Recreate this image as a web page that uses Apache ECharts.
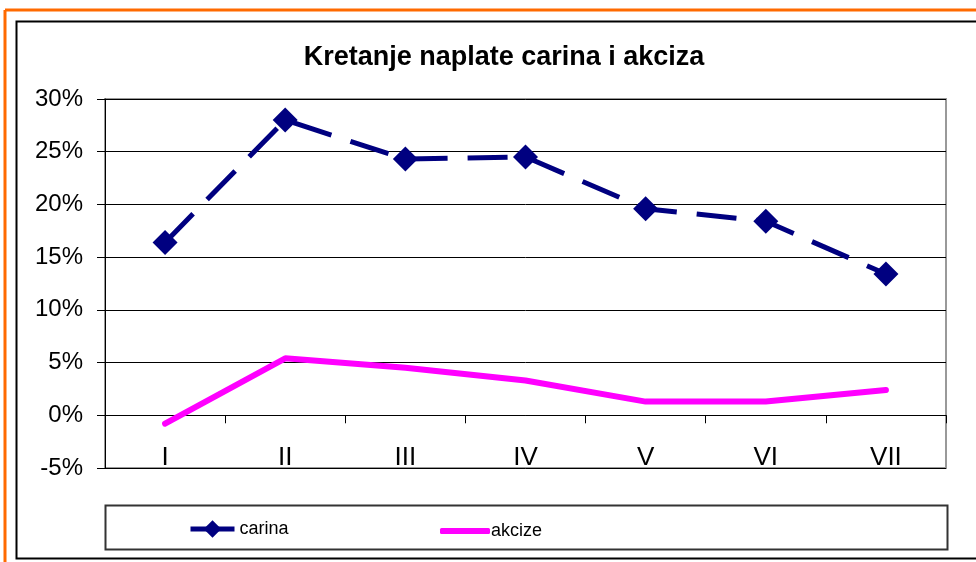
<!DOCTYPE html>
<html>
<head>
<meta charset="utf-8">
<script src="https://cdn.jsdelivr.net/npm/echarts@6/dist/echarts.min.js"></script>
<style>html,body{margin:0;padding:0;background:#fff}#c{width:976px;height:562px}</style>
</head>
<body>
<div id="c"></div>
<script>
var categories = ['I', 'II', 'III', 'IV', 'V', 'VI', 'VII'];
var carina = [16.4, 28.0, 24.3, 24.5, 19.6, 18.4, 13.4];
var akcize = [-0.8, 5.4, 4.5, 3.3, 1.3, 1.3, 2.4];
var yTicks = { min: -5, max: 30, interval: 5 };

var chart = echarts.init(document.getElementById('c'));
var sans = "'Liberation Sans', Arial, sans-serif";
chart.setOption({
  backgroundColor: '#fff',
  animation: false,
  title: {
    text: 'Kretanje naplate carina i akciza',
    left: 499, top: 39, textAlign: 'center',
    textStyle: { fontFamily: sans, fontWeight: 'bold', fontSize: 27, color: '#000' }
  },
  legend: [
    {
      left: 183, top: 515,
      itemWidth: 44, itemHeight: 22,
      lineStyle: { width: 5, type: 'solid' },
      textStyle: { fontFamily: sans, fontSize: 18, color: '#000' },
      data: ['carina']
    },
    {
      left: 435, top: 517,
      itemWidth: 50, itemHeight: 6,
      textStyle: { fontFamily: sans, fontSize: 18, color: '#000', padding: [0, 0, 0, -4] },
      data: [{ name: 'akcize', icon: 'roundRect' }]
    }
  ],
  graphic: [
    { type: 'line', shape: { x1: 5, y1: 10, x2: 976, y2: 10 }, style: { stroke: '#ff6a00', lineWidth: 3 } },
    { type: 'line', shape: { x1: 5, y1: 10, x2: 5, y2: 562 }, style: { stroke: '#ff6a00', lineWidth: 3 } },
    { type: 'rect', shape: { x: 16.5, y: 21.5, width: 1000, height: 537 }, style: { fill: 'none', stroke: '#000', lineWidth: 2 } },
    { type: 'rect', shape: { x: 105.5, y: 505.5, width: 842, height: 44 }, style: { fill: 'none', stroke: '#333', lineWidth: 2 }, z: 0 }
  ],
  grid: {
    left: 105, right: 30, top: 99, bottom: 94,
    show: true, borderColor: '#999', borderWidth: 2, backgroundColor: '#fff'
  },
  xAxis: [
    {
      type: 'category', data: categories, boundaryGap: true,
      axisLine: { onZero: true, lineStyle: { color: '#000', width: 1 } },
      axisTick: { show: true, length: 8, lineStyle: { color: '#000' } },
      axisLabel: { show: false }
    },
    {
      type: 'category', data: categories, boundaryGap: true, position: 'bottom',
      offset: -23,
      axisLine: { show: false, onZero: false },
      axisTick: { show: false },
      axisLabel: { show: true, margin: 0, fontFamily: sans, fontSize: 26, color: '#000' }
    }
  ],
  yAxis: {
    type: 'value', min: yTicks.min, max: yTicks.max, interval: yTicks.interval,
    axisLine: { show: true, lineStyle: { color: '#000', width: 1 } },
    axisTick: { show: true, length: 8, lineStyle: { color: '#000' } },
    axisLabel: { formatter: '{value}%', fontFamily: sans, fontSize: 24, color: '#000', margin: 22 },
    splitLine: { show: true, lineStyle: { color: '#000', width: 1 } }
  },
  series: [
    {
      name: 'carina', type: 'line', data: carina, xAxisIndex: 0,
      symbol: 'diamond', symbolSize: 25,
      itemStyle: { color: '#000080' },
      lineStyle: { color: '#000080', width: 5, type: [40, 20], cap: 'butt' },
      z: 3
    },
    {
      name: 'akcize', type: 'line', data: akcize, xAxisIndex: 0,
      symbol: 'none', showSymbol: false,
      itemStyle: { color: '#ff00ff' },
      lineStyle: { color: '#ff00ff', width: 6, cap: 'round' },
      z: 2
    }
  ]
});
</script>
</body>
</html>
